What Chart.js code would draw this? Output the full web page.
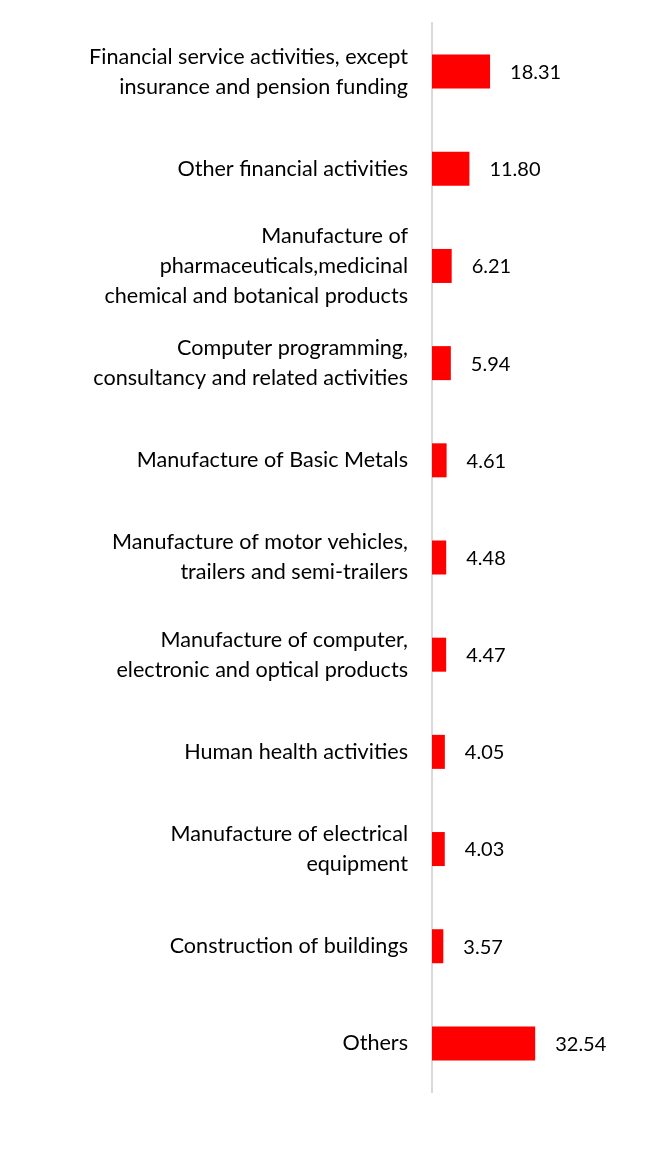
<!DOCTYPE html>
<html>
<head>
<meta charset="utf-8">
<script src="https://cdn.jsdelivr.net/npm/chart.js@4/dist/chart.umd.min.js"></script>
<style>
  html, body { margin: 0; padding: 0; background: #fff; }
  #wrap { width: 672px; height: 1161px; }
</style>
</head>
<body>
<div id="wrap"><canvas id="sectorChart"></canvas></div>
<script>
// Sectors (multi-line labels as in the source chart)
const sectors = [
  ["Financial service activities, except", "insurance and pension funding"],
  ["Other financial activities"],
  ["Manufacture of", "pharmaceuticals,medicinal", "chemical and botanical products"],
  ["Computer programming,", "consultancy and related activities"],
  ["Manufacture of Basic Metals"],
  ["Manufacture of motor vehicles,", "trailers and semi-trailers"],
  ["Manufacture of computer,", "electronic and optical products"],
  ["Human health activities"],
  ["Manufacture of electrical", "equipment"],
  ["Construction of buildings"],
  ["Others"],
];
const shares = [18.31, 11.80, 6.21, 5.94, 4.61, 4.48, 4.47, 4.05, 4.03, 3.57, 32.54];

const FONT = "Lato, 'Noto Sans', sans-serif";

// draw the value next to each bar
const valueLabels = {
  id: "valueLabels",
  afterDatasetsDraw(chart) {
    const ctx = chart.ctx;
    const meta = chart.getDatasetMeta(0);
    ctx.save();
    ctx.font = "20px " + FONT;
    ctx.fillStyle = "#000";
    ctx.textAlign = "left";
    ctx.textBaseline = "middle";
    meta.data.forEach((bar, i) => {
      ctx.fillText(shares[i].toFixed(2), bar.x + 20, bar.y + 1);
    });
    ctx.restore();
  },
};

const ctx = document.getElementById("sectorChart");
new Chart(ctx, {
  type: "bar",
  data: {
    labels: sectors,
    datasets: [
      {
        data: shares,
        backgroundColor: "#ff0000",
        borderWidth: 0,
        categoryPercentage: 1,
        barPercentage: 0.35,
      },
    ],
  },
  options: {
    indexAxis: "y",
    responsive: true,
    maintainAspectRatio: false,
    animation: false,
    layout: { padding: { top: 23, bottom: 69, left: 0, right: 18 } },
    plugins: {
      legend: { display: false },
      tooltip: { enabled: false },
    },
    scales: {
      x: {
        display: false,
        min: 0,
        max: 70,
      },
      y: {
        grid: { display: false, drawTicks: false },
        border: { display: true, color: "#d9d9d9", width: 2 },
        ticks: {
          color: "#000",
          padding: 24,
          font: { family: FONT, size: 21.6, lineHeight: 1.39 },
        },
        afterFit(scale) {
          scale.width = 432;
          scale.paddingTop = 0;
          scale.paddingBottom = 0;
        },
      },
    },
  },
  plugins: [valueLabels],
});
</script>
</body>
</html>
